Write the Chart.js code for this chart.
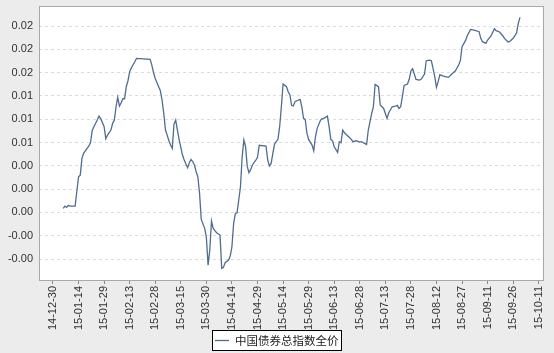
<!DOCTYPE html>
<html>
<head>
<meta charset="utf-8">
<script src="https://cdn.jsdelivr.net/npm/chart.js@4/dist/chart.umd.min.js"></script>
<style>
html,body{margin:0;padding:0;background:#ececec;}
#wrap{width:554px;height:353px;position:relative;}
</style>
</head>
<body>
<div id="wrap"><canvas id="c" width="554" height="353"></canvas></div>
<script>
const seriesName = '中国债券总指数全价';

const dates = [
'2015-01-05','2015-01-06','2015-01-07','2015-01-08','2015-01-09','2015-01-12','2015-01-14','2015-01-15','2015-01-16','2015-01-17',
'2015-01-19','2015-01-20','2015-01-21','2015-01-22','2015-01-23','2015-01-25','2015-01-26','2015-01-27','2015-01-29','2015-01-30',
'2015-01-31','2015-02-02','2015-02-03','2015-02-04','2015-02-05','2015-02-06','2015-02-07','2015-02-08','2015-02-09','2015-02-10',
'2015-02-11','2015-02-12','2015-02-13','2015-02-14','2015-02-16','2015-02-17','2015-02-25','2015-02-26','2015-02-27','2015-02-28',
'2015-03-02','2015-03-03','2015-03-04','2015-03-05','2015-03-06','2015-03-07','2015-03-08','2015-03-09','2015-03-10','2015-03-11',
'2015-03-12','2015-03-13','2015-03-14','2015-03-15','2015-03-16','2015-03-17','2015-03-18','2015-03-19','2015-03-20','2015-03-21',
'2015-03-22','2015-03-23','2015-03-24','2015-03-25','2015-03-26','2015-03-27','2015-03-29','2015-03-30','2015-03-31','2015-04-01',
'2015-04-02','2015-04-03','2015-04-04','2015-04-05','2015-04-07','2015-04-08','2015-04-09','2015-04-10','2015-04-12','2015-04-13',
'2015-04-14','2015-04-15','2015-04-16','2015-04-17','2015-04-18','2015-04-19','2015-04-20','2015-04-21','2015-04-22','2015-04-23',
'2015-04-24','2015-04-25','2015-04-26','2015-04-28','2015-04-29','2015-04-30','2015-05-04','2015-05-05','2015-05-06','2015-05-07',
'2015-05-08','2015-05-09','2015-05-10','2015-05-11','2015-05-12','2015-05-13','2015-05-14','2015-05-16','2015-05-17','2015-05-18',
'2015-05-19','2015-05-20','2015-05-21','2015-05-23','2015-05-24','2015-05-25','2015-05-26','2015-05-27','2015-05-28','2015-05-29',
'2015-05-31','2015-06-01','2015-06-02','2015-06-03','2015-06-05','2015-06-06','2015-06-07','2015-06-09','2015-06-10','2015-06-11',
'2015-06-12','2015-06-13','2015-06-15','2015-06-16','2015-06-17','2015-06-18','2015-06-19','2015-06-21','2015-06-23','2015-06-24',
'2015-06-26','2015-06-28','2015-06-29','2015-06-30','2015-07-02','2015-07-03','2015-07-05','2015-07-06','2015-07-07','2015-07-09',
'2015-07-10','2015-07-12','2015-07-14','2015-07-15','2015-07-17','2015-07-19','2015-07-20','2015-07-21','2015-07-22','2015-07-23',
'2015-07-24','2015-07-26','2015-07-27','2015-07-28','2015-07-29','2015-07-31','2015-08-02','2015-08-03','2015-08-05','2015-08-06',
'2015-08-08','2015-08-09','2015-08-11','2015-08-12','2015-08-13','2015-08-14','2015-08-16','2015-08-19','2015-08-21','2015-08-23',
'2015-08-25','2015-08-26','2015-08-27','2015-08-29','2015-08-30','2015-09-01','2015-09-03','2015-09-06','2015-09-07','2015-09-08',
'2015-09-10','2015-09-11','2015-09-13','2015-09-15','2015-09-16','2015-09-18','2015-09-20','2015-09-21','2015-09-23','2015-09-24',
'2015-09-26','2015-09-27','2015-09-28','2015-09-29','2015-09-30'
];

const values = [
0.00043,0.00068,0.00054,0.00076,0.00068,0.00068,0.00383,0.00400,0.00580,0.00634,
0.00687,0.00712,0.00748,0.00877,0.00920,0.00991,0.01034,0.01006,0.00920,0.00791,
0.00830,0.00884,0.00956,0.00991,0.01134,0.01235,0.01142,0.01177,0.01220,0.01220,
0.01349,0.01413,0.01510,0.01553,0.01617,0.01653,0.01642,0.01581,0.01499,0.01438,
0.01349,0.01306,0.01206,0.01063,0.00884,0.00830,0.00770,0.00723,0.00687,0.00948,
0.00991,0.00884,0.00784,0.00698,0.00616,0.00562,0.00519,0.00480,0.00534,0.00569,
0.00544,0.00509,0.00437,0.00383,0.00204,-0.00075,-0.00171,-0.00268,-0.00565,-0.00404,
-0.00092,-0.00171,-0.00196,-0.00218,-0.00243,-0.00600,-0.00590,-0.00540,-0.00511,-0.00468,
-0.00368,-0.00118,-0.00010,-0.00003,0.00133,0.00276,0.00598,0.00777,0.00705,0.00491,
0.00426,0.00462,0.00509,0.00562,0.00591,0.00720,0.00712,0.00562,0.00498,0.00526,
0.00634,0.00734,0.00759,0.00784,0.00920,0.01134,0.01378,0.01349,0.01295,0.01260,
0.01149,0.01142,0.01188,0.01206,0.01213,0.01134,0.01009,0.00998,0.00848,0.00784,
0.00723,0.00662,0.00812,0.00902,0.00991,0.01006,0.01009,0.01034,0.00920,0.00784,
0.00769,0.00705,0.00644,0.00759,0.00748,0.00884,0.00855,0.00820,0.00784,0.00759,
0.00769,0.00755,0.00759,0.00748,0.00730,0.00884,0.01063,0.01134,0.01374,0.01349,
0.01152,0.01116,0.01009,0.01070,0.01134,0.01141,0.01149,0.01116,0.01134,0.01242,
0.01363,0.01378,0.01428,0.01517,0.01542,0.01428,0.01420,0.01428,0.01485,0.01628,
0.01635,0.01628,0.01456,0.01342,0.01403,0.01478,0.01463,0.01449,0.01485,0.01517,
0.01582,0.01628,0.01778,0.01843,0.01893,0.01964,0.01957,0.01939,0.01868,0.01832,
0.01814,0.01850,0.01893,0.01971,0.01950,0.01936,0.01893,0.01864,0.01828,0.01835,
0.01868,0.01896,0.01928,0.02029,0.02093
];

const xTickLabels = ['14-12-30','15-01-14','15-01-29','15-02-13','15-02-28','15-03-15','15-03-30','15-04-14','15-04-29','15-05-14','15-05-29','15-06-13','15-06-28','15-07-13','15-07-28','15-08-12','15-08-27','15-09-11','15-09-26','15-10-11'];
const yTickValues = [-0.005,-0.0025,0,0.0025,0.005,0.0075,0.01,0.0125,0.015,0.0175,0.02];
const yTickLabels = ['-0.00','-0.00','0.00','0.00','0.00','0.01','0.01','0.01','0.02','0.02','0.02'];

const BASE = Date.UTC(2014,11,30);
function dayOf(y,m,d){ return (Date.UTC(y,m-1,d)-BASE)/86400000; }
function dayFromIso(s){ const p=s.split('-').map(Number); return dayOf(p[0],p[1],p[2]); }
function dayFromShort(s){ const p=s.split('-').map(Number); return dayOf(2000+p[0],p[1],p[2]); }

const points = dates.map((d,i)=>({x:dayFromIso(d), y:values[i]}));
const xTickPos = xTickLabels.map(dayFromShort);
const xLabelMap = {}; xTickPos.forEach((p,i)=>{ xLabelMap[p]=xTickLabels[i]; });
const yLabelMap = {}; yTickValues.forEach((v,i)=>{ yLabelMap[v.toFixed(5)]=yTickLabels[i]; });

const LINE_COLOR = '#4f6d8f';

const framePlugin = {
  id:'frame',
  beforeDraw(chart){
    const ctx=chart.ctx, a=chart.chartArea;
    ctx.save();
    ctx.fillStyle='#ececec';
    ctx.fillRect(0,0,chart.width,chart.height);
    ctx.fillStyle='#ffffff';
    ctx.fillRect(a.left,a.top,a.right-a.left,a.bottom-a.top);
    ctx.restore();
  },
  afterDraw(chart){
    const ctx=chart.ctx, a=chart.chartArea;
    ctx.save();
    ctx.strokeStyle='#a9a9a9';
    ctx.lineWidth=1;
    ctx.strokeRect(Math.round(a.left)+0.5,Math.round(a.top)+0.5,Math.round(a.right-a.left),Math.round(a.bottom-a.top));
    // legend (centred under the chart)
    const font='11.5px "Noto Sans CJK SC", sans-serif';
    ctx.font=font;
    const tw=ctx.measureText(seriesName).width;
    const sample=14, gap=6;
    const total=sample+gap+tw;
    const cx=chart.width/2;
    const x0=Math.round(cx-total/2);
    const cy=340.5;
    ctx.fillStyle='#ffffff';
    ctx.fillRect(x0-3,330,total+6,21);
    ctx.strokeStyle='#000000';
    ctx.strokeRect(x0-3+0.5,330.5,Math.round(total+6),20);
    ctx.strokeStyle=LINE_COLOR;
    ctx.lineWidth=1.3;
    ctx.beginPath();
    ctx.moveTo(x0,cy);
    ctx.lineTo(x0+sample,cy);
    ctx.stroke();
    ctx.fillStyle='#222222';
    ctx.textBaseline='middle';
    ctx.textAlign='left';
    ctx.fillText(seriesName,x0+sample+gap,cy+0.5);
    ctx.restore();
  }
};

new Chart(document.getElementById('c'),{
  type:'line',
  data:{datasets:[{
    label:seriesName,
    data:points,
    borderColor:LINE_COLOR,
    backgroundColor:LINE_COLOR,
    borderWidth:1.3,
    pointRadius:0,
    tension:0,
    fill:false
  }]},
  options:{
    responsive:false,
    animation:false,
    devicePixelRatio:1,
    layout:{padding:{left:0,right:8,top:6,bottom:20}},
    plugins:{
      legend:{display:false},
      tooltip:{enabled:false}
    },
    scales:{
      x:{
        type:'linear',
        min:-8.2,
        max:287.3,
        afterBuildTicks(scale){ scale.ticks = xTickPos.map(v=>({value:v})); },
        afterFit(scale){ scale.height = 53; scale.paddingTop = 0; scale.paddingBottom = 0; },
        ticks:{
          autoSkip:false,
          minRotation:90,
          maxRotation:90,
          padding:2,
          color:'#333333',
          font:{family:'"Liberation Sans", Arial, sans-serif',size:11},
          callback(v){ return xLabelMap[v] || ''; }
        },
        grid:{display:true,drawOnChartArea:false,drawTicks:true,tickLength:4,color:'#8a8a8a'},
        border:{display:false}
      },
      y:{
        type:'linear',
        min:-0.00725,
        max:0.02215,
        afterBuildTicks(scale){ scale.ticks = yTickValues.map(v=>({value:v})); },
        afterFit(scale){ scale.width = 39; scale.paddingTop = 0; scale.paddingBottom = 0; },
        ticks:{
          padding:6,
          color:'#333333',
          font:{family:'"Liberation Sans", Arial, sans-serif',size:11},
          callback(v){ return yLabelMap[Number(v).toFixed(5)] || ''; }
        },
        grid:{display:true,drawTicks:false,color:'#dddddd',lineWidth:1},
        border:{display:false,dash:[3,3]}
      }
    }
  },
  plugins:[framePlugin]
});
</script>
</body>
</html>
